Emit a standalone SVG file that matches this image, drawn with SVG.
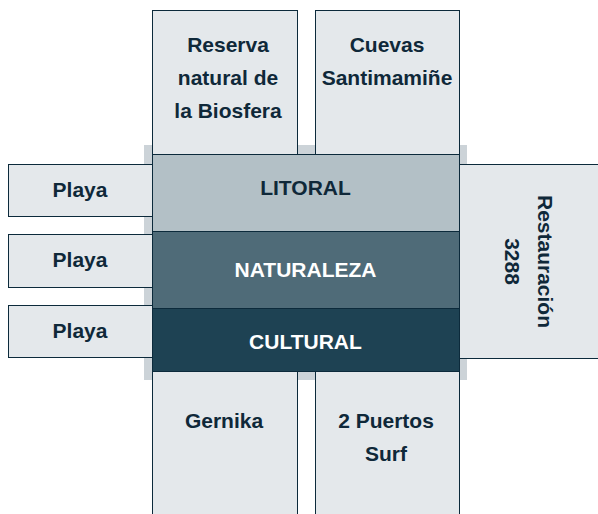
<svg xmlns="http://www.w3.org/2000/svg" width="598" height="514" viewBox="0 0 598 514">
<style>
.box{fill:#e4e8eb;stroke:#0c2a3b;stroke-width:1}
.band{stroke:#0c2a3b;stroke-width:1}
.t{font-family:"Liberation Sans",Arial,sans-serif;font-weight:bold;font-size:21px;fill:#0f2839;text-anchor:middle}
.w{fill:#ffffff}
</style>
<rect id="panel" x="144" y="145" width="323" height="235" fill="#ccd3d8"/>
<g id="connectors"/>
<g id="reserva"><rect class="box" x="152.5" y="10.5" width="145" height="144"/>
<text class="t" x="228" y="52">Reserva</text><text class="t" x="228" y="85">natural de</text><text class="t" x="228" y="118">la Biosfera</text></g>
<g id="cuevas"><rect class="box" x="315.5" y="10.5" width="144" height="144"/>
<text class="t" x="387" y="52">Cuevas</text><text class="t" x="387" y="85">Santimamiñe</text></g>
<g id="playa1"><rect class="box" x="8.5" y="164.5" width="144" height="52"/><text class="t" x="80" y="197">Playa</text></g>
<g id="playa2"><rect class="box" x="8.5" y="234.5" width="144" height="53"/><text class="t" x="80" y="267">Playa</text></g>
<g id="playa3"><rect class="box" x="8.5" y="305.5" width="144" height="52"/><text class="t" x="80" y="338">Playa</text></g>
<g id="restauracion"><rect class="box" x="459.5" y="164.5" width="150" height="194"/>
<g transform="translate(531,261.5) rotate(90)"><text class="t" x="0" y="-7">Restauración</text><text class="t" x="0" y="26">3288</text></g></g>
<g id="gernika"><rect class="box" x="152.5" y="371.5" width="145" height="150"/><text class="t" x="224" y="428">Gernika</text></g>
<g id="puertos"><rect class="box" x="315.5" y="371.5" width="144" height="150"/><text class="t" x="386" y="428">2 Puertos</text><text class="t" x="386" y="461">Surf</text></g>
<g id="litoral"><rect class="band" x="152.5" y="154.5" width="307" height="77" fill="#b3c0c6"/><text class="t" x="305.5" y="195">LITORAL</text></g>
<g id="naturaleza"><rect class="band" x="152.5" y="231.5" width="307" height="77" fill="#4f6b78"/><text class="t w" x="305.5" y="277">NATURALEZA</text></g>
<g id="cultural"><rect class="band" x="152.5" y="308.5" width="307" height="63" fill="#1e4253"/><text class="t w" x="305.5" y="349">CULTURAL</text></g>
</svg>
